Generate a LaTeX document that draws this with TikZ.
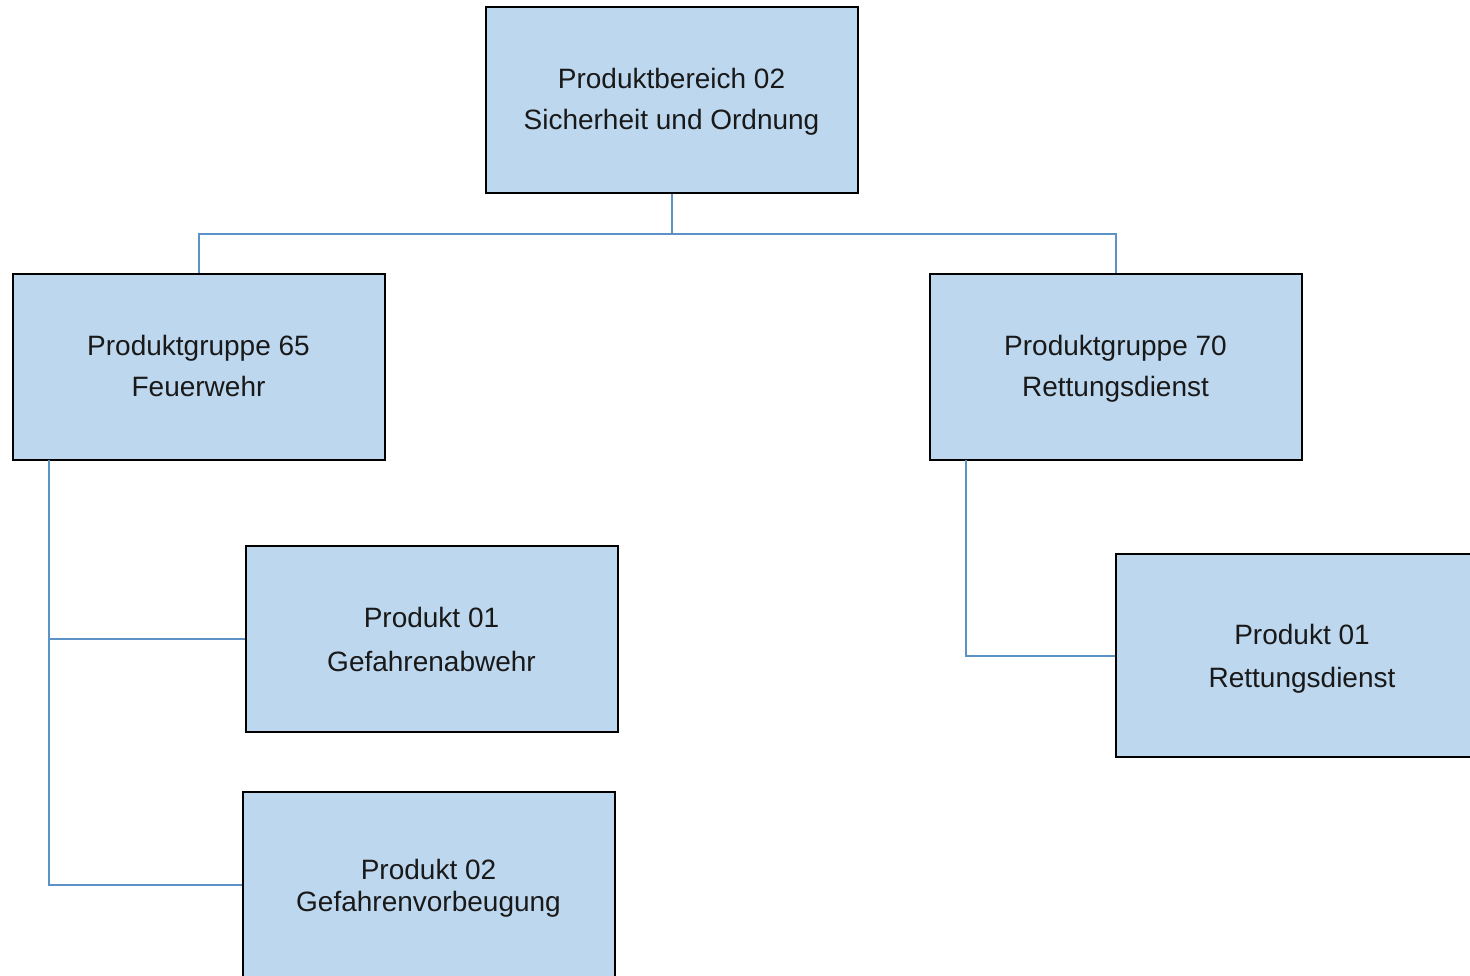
\documentclass[tikz,border=0pt]{standalone}
\usepackage{fontspec}
\setmainfont{Liberation Sans}
\definecolor{boxfill}{HTML}{BDD7EE}
\definecolor{connblue}{HTML}{5B93C7}
\tikzset{
  orgbox/.style={draw=black, line width=1pt, fill=boxfill, minimum width=186pt, minimum height=93pt, inner sep=0pt},
  boxtext/.style={inner sep=0pt, align=center, text=black!90},
  conn/.style={draw=connblue, line width=1pt}
}
\begin{document}
\begin{tikzpicture}[x=0.5pt,y=-0.5pt]
\useasboundingbox (0,0) rectangle (1470,975);
\clip (0,0) rectangle (1470,975);
\fill[white] (0,0) rectangle (1470,975);
\node[orgbox] (top) at (671.5,100) {};
\node[orgbox] (g65) at (198.5,367) {};
\node[orgbox] (g70) at (1115.5,367) {};
\node[orgbox] (p01a) at (431.5,638.5) {};
\node[orgbox] (p02) at (428.5,885) {};
\node[orgbox, minimum height=101.5pt] (p01r) at (1302,655.5) {};
\node[boxtext, font=\fontsize{14}{20.5}\selectfont] (topt) at ([yshift=-1pt]top.center) {Produktbereich 02\\Sicherheit und Ordnung};
\node[boxtext, font=\fontsize{14}{20.5}\selectfont] (g65t) at ([yshift=0.5pt]g65.center) {Produktgruppe 65\\Feuerwehr};
\node[boxtext, font=\fontsize{14}{20.5}\selectfont] (g70t) at ([yshift=-1pt]g70.center) {Produktgruppe 70\\Rettungsdienst};
\node[boxtext, font=\fontsize{14}{22}\selectfont] (p01at) at ([yshift=-0.5pt]p01a.center) {Produkt 01\\Gefahrenabwehr};
\node[boxtext, font=\fontsize{14}{16}\selectfont] (p02t) at ([yshift=-1.5pt]p02.center) {Produkt 02\\Gefahrenvorbeugung};
\node[boxtext, font=\fontsize{14}{21.5}\selectfont] (p01rt) at ([yshift=-1.5pt]p01r.center) {Produkt 01\\Rettungsdienst};
\coordinate (hb) at (671.5,234);
\coordinate (l1) at (49,460);
\coordinate (r1) at (966,460);
\draw[conn] (top.south) -- (hb);
\draw[conn] (g65.north) |- (hb) -| (g70.north);
\draw[conn] (l1) |- (p01a.west);
\draw[conn] (l1) |- (p02.west);
\draw[conn] (r1) |- (p01r.west);
\end{tikzpicture}
\end{document}
